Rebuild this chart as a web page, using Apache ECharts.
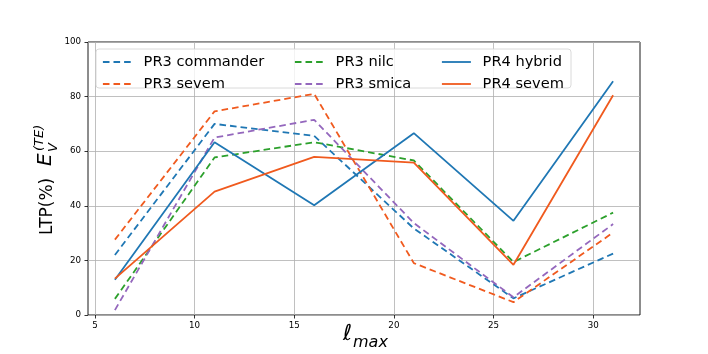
<!DOCTYPE html>
<html>
<head>
<meta charset="utf-8">
<script src="https://cdn.jsdelivr.net/npm/echarts@6/dist/echarts.min.js"></script>
<style>
html,body{margin:0;padding:0;background:#fff;}
#chart{width:708px;height:354px;}
</style>
</head>
<body>
<div id="chart"></div>
<script>
// ---- data ----
var xValues = [6, 11, 16, 21, 26, 31];
var pr3Commander = [22.0, 70.0, 65.6, 31.7, 6.1, 22.5];
var pr3Sevem     = [27.6, 74.6, 81.0, 19.0, 4.7, 30.2];
var pr3Nilc      = [5.9, 57.7, 63.3, 56.6, 19.4, 37.5];
var pr3Smica     = [1.8, 65.0, 71.5, 33.7, 6.5, 33.3];
var pr4Hybrid    = [12.9, 63.3, 40.2, 66.6, 34.5, 85.6];
var pr4Sevem     = [13.3, 45.2, 57.9, 55.8, 18.4, 80.5];
var xTicks = [5, 10, 15, 20, 25, 30];
var yTicks = [0, 20, 40, 60, 80, 100];
var seriesNames = ['PR3 commander', 'PR3 sevem', 'PR3 nilc', 'PR3 smica', 'PR4 hybrid', 'PR4 sevem'];

var BLUE = '#1f77b4', ORANGE = '#f05a1e', GREEN = '#2ca02c', PURPLE = '#9467bd';
var DASH = [6.6, 4.0];
var LW = 1.8;

function pairs(ys) { return xValues.map(function (x, i) { return [x, ys[i]]; }); }
function mk(name, ys, color, dashed) {
  return {
    name: name, type: 'line', data: pairs(ys), symbol: 'none', z: 2,
    lineStyle: { color: color, width: LW, type: dashed ? DASH : 'solid' },
    itemStyle: { color: color }, emphasis: { disabled: true }, animation: false
  };
}

var chart = echarts.init(document.getElementById('chart'), null, { renderer: 'canvas' });
var FONT = 'DejaVu Sans';
function legendAt(left, names) {
  return {
    orient: 'vertical', left: left, top: 54.5, padding: 0, z: 10,
    itemWidth: 29, itemHeight: 14, itemGap: 7,
    data: names, selectedMode: false,
    itemStyle: { opacity: 0, borderWidth: 0 },
    lineStyle: { width: LW },
    textStyle: { fontFamily: FONT, fontSize: 14.6, color: '#000', padding: [0, 0, 0, 6.7], lineHeight: 14 }
  };
}

var option = {
  backgroundColor: '#fff',
  animation: false,
  grid: { left: 88, right: 68, top: 42, bottom: 39, show: true, borderColor: '#000', borderWidth: 0.9, backgroundColor: 'transparent' },
  xAxis: {
    type: 'value', min: 4.65, max: 32.35,
    axisLine: { show: false },
    axisTick: { show: true, length: 3.5, lineStyle: { color: '#000', width: 0.8 }, customValues: xTicks },
    axisLabel: { fontFamily: FONT, fontSize: 8.7, color: '#000', margin: 6, customValues: xTicks },
    splitLine: { show: true, lineStyle: { color: '#b0b0b0', width: 0.8 } }
  },
  yAxis: {
    type: 'value', min: 0, max: 100, interval: 20,
    axisLine: { show: false },
    axisTick: { show: true, length: 3.5, lineStyle: { color: '#000', width: 0.8 }, customValues: yTicks },
    axisLabel: { fontFamily: FONT, fontSize: 8.7, color: '#000', margin: 7, customValues: yTicks },
    splitLine: { show: true, lineStyle: { color: '#b0b0b0', width: 0.8 } }
  },
  legend: [
    legendAt(102, [seriesNames[0], seriesNames[1]]),
    legendAt(294, [seriesNames[2], seriesNames[3]]),
    legendAt(441, [seriesNames[4], seriesNames[5]])
  ],
  graphic: [
    {
      type: 'rect', z: 5,
      shape: { x: 96, y: 49, width: 475, height: 39, r: 3 },
      style: { fill: 'rgba(255,255,255,0.8)', stroke: '#d0d0d0', lineWidth: 0.8 }
    },
    {
      type: 'group', x: 56, y: 235, rotation: Math.PI / 2, z: 100,
      children: [
        { type: 'text', x: 0, y: 0, style: { text: 'LTP(%)', font: '17px "DejaVu Sans"', fill: '#000', verticalAlign: 'bottom', align: 'left' } },
        { type: 'text', x: 69, y: 0, style: { text: 'E', font: 'italic 20px "DejaVu Sans"', fill: '#000', verticalAlign: 'bottom', align: 'left' } },
        { type: 'text', x: 83, y: 4, style: { text: 'V', font: 'italic 13px "DejaVu Sans"', fill: '#000', verticalAlign: 'bottom', align: 'left' } },
        { type: 'text', x: 84, y: -10, style: { text: '(TE)', font: 'italic 13px "DejaVu Sans"', fill: '#000', verticalAlign: 'bottom', align: 'left' } }
      ]
    },
    {
      type: 'group', x: 343, y: 345, z: 100,
      children: [
        { type: 'text', x: 0, y: 0, style: { text: 'ℓ', font: 'italic 22px "DejaVu Sans"', fill: '#000', verticalAlign: 'bottom', align: 'left' } },
        { type: 'text', x: 10, y: 6, style: { text: 'max', font: 'italic 16px "DejaVu Sans"', fill: '#000', verticalAlign: 'bottom', align: 'left' } }
      ]
    }
  ],
  series: [
    mk(seriesNames[0], pr3Commander, BLUE, true),
    mk(seriesNames[1], pr3Sevem, ORANGE, true),
    mk(seriesNames[2], pr3Nilc, GREEN, true),
    mk(seriesNames[3], pr3Smica, PURPLE, true),
    mk(seriesNames[4], pr4Hybrid, BLUE, false),
    mk(seriesNames[5], pr4Sevem, ORANGE, false)
  ]
};
chart.setOption(option);
</script>
</body>
</html>
